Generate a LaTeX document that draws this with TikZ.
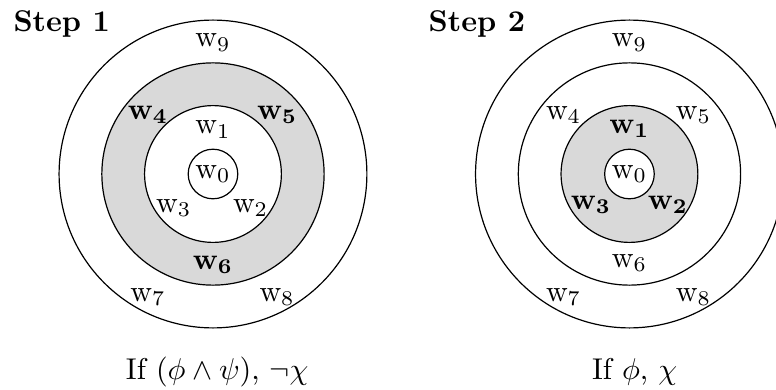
\documentclass[tikz,border=0pt]{standalone}
\usepackage{amsmath, amssymb}
\usepackage{tikz}
\usetikzlibrary{positioning}

\tikzset{
    world/.style={inner sep=1pt},
    ring/.style={fill=gray!30, even odd rule},
    steptitle/.style={anchor=base west, inner sep=0pt, font=\bfseries},
    condition/.style={anchor=base}
}

\begin{document}
\begin{tikzpicture}[scale=1.0]
    \useasboundingbox (-2.491,-2.526) rectangle (6.585,2.035);

    % Step 1
    \begin{scope}
        \fill[ring] (0,0) circle (1.3) (0,0) circle (0.8);
        \foreach \r in {0.29, 0.8, 1.3, 1.8}
            \draw (0,0) circle (\r);
        \node[steptitle] (title1) at (-2.34,1.664) {Step 1};
        \node[world] (a0) at (0,0) {$\mathrm{w}_0$};
        \node[world] (a1) at (0,0.52) {$\mathrm{w}_1$};
        \node[world] (a2) at (0.44,-0.40) {$\mathrm{w}_2$};
        \node[world] (a3) at (-0.46,-0.40) {$\mathrm{w}_3$};
        \node[world] (a4) at (-0.76,0.69) {$\mathbf{w_4}$};
        \node[world] (a5) at (0.75,0.69) {$\mathbf{w_5}$};
        \node[world] (a6) at (0,-1.06) {$\mathbf{w_6}$};
        \node[world] (a7) at (-0.76,-1.44) {$\mathrm{w}_7$};
        \node[world] (a8) at (0.75,-1.44) {$\mathrm{w}_8$};
        \node[world] (a9) at (0,1.54) {$\mathrm{w}_9$};
        \node[condition] (cond1) at (0.05,-2.40) {If $(\phi \wedge \psi)$, $\neg\chi$};
    \end{scope}

    % Step 2
    \begin{scope}[xshift=4.871cm]
        \fill[ring] (0,0) circle (0.8) (0,0) circle (0.29);
        \foreach \r in {0.29, 0.8, 1.3, 1.8}
            \draw (0,0) circle (\r);
        \node[steptitle] (title2) at (-2.356,1.664) {Step 2};
        \node[world] (b0) at (0,0) {$\mathrm{w}_0$};
        \node[world] (b1) at (0,0.53) {$\mathbf{w_1}$};
        \node[world] (b2) at (0.45,-0.36) {$\mathbf{w_2}$};
        \node[world] (b3) at (-0.45,-0.36) {$\mathbf{w_3}$};
        \node[world] (b4) at (-0.77,0.69) {$\mathrm{w}_4$};
        \node[world] (b5) at (0.75,0.69) {$\mathrm{w}_5$};
        \node[world] (b6) at (0,-1.04) {$\mathrm{w}_6$};
        \node[world] (b7) at (-0.77,-1.44) {$\mathrm{w}_7$};
        \node[world] (b8) at (0.75,-1.44) {$\mathrm{w}_8$};
        \node[world] (b9) at (0,1.54) {$\mathrm{w}_9$};
        \node[condition] (cond2) at (0.06,-2.40) {If $\phi$, $\chi$};
    \end{scope}
\end{tikzpicture}
\end{document}
